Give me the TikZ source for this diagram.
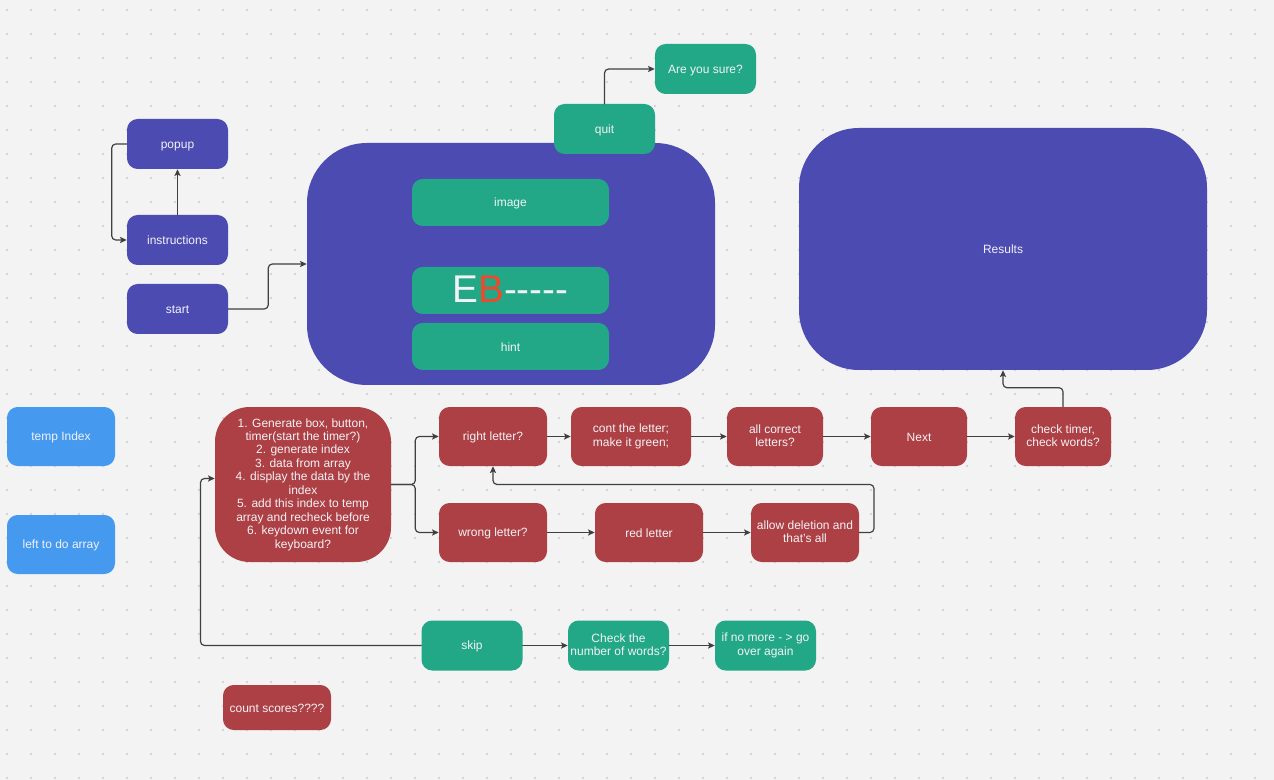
\documentclass[tikz,border=0pt]{standalone}
\usepackage{fontspec}
\setmainfont{Liberation Sans}
\usetikzlibrary{arrows.meta}
\definecolor{bgc}{HTML}{F3F3F3}
\definecolor{dotc}{HTML}{CBCBCB}
\definecolor{indigo}{HTML}{4B4BB2}
\definecolor{teal}{HTML}{22A887}
\definecolor{brick}{HTML}{AD4044}
\definecolor{sky}{HTML}{4599EE}
\definecolor{letterred}{HTML}{EA4B2D}
\definecolor{linec}{HTML}{404040}
\definecolor{txt}{HTML}{F2F2F6}
\begin{document}
\begin{tikzpicture}[x=0.75pt,y=-0.75pt,line join=round,line cap=round,>={Stealth[length=5pt,width=4.6pt,inset=1pt]}]
	\tikzset{box/.style 2 args={rounded corners=8pt,inner sep=0pt,align=center,text=txt,
			font=\fontsize{9}{10.1}\selectfont,minimum width={#1*0.75pt},minimum height={#2*0.75pt},
			execute at begin node={\rule[-1.5pt]{0pt}{10pt}}},
		purple box/.style={box={#1},fill=indigo},
		green box/.style={box={#1},fill=teal},
		red box/.style={box={#1},fill=brick},
		blue box/.style={box={#1},fill=sky},
		arr/.style={->,draw=linec,line width=0.9pt,rounded corners=3pt}}
	\useasboundingbox (0,0) rectangle (1274,780);
	\fill[bgc] (0,0) rectangle (1274,780);
	% dotted grid
	\foreach \i in {0,...,52}
		\foreach \j in {0,...,32}
			\fill[dotc] (7+24*\i,10+24*\j) circle[radius=0.8pt];
	% menu
	\node[purple box={{101}{50}}] (popup) at (177.5,144) {popup};
	\node[purple box={{101}{50}}] (instr) at (177.5,240) {instructions};
	\node[purple box={{101}{50}}] (start) at (177.5,309) {start};
	% game screen
	\node[purple box={{408}{242}},rounded corners=45pt] (screen) at (511,264) {};
	\node[green box={{197}{47}}] (image) at (510.5,202.5) {image};
	\node[green box={{197}{47}}] (word) at (510.5,290.5) {\fontsize{29}{30}\selectfont E\textcolor{letterred}{B}-{}-{}-{}-{}-};
	\node[green box={{197}{47}}] (hint) at (510.5,346.5) {hint};
	\node[green box={{101}{50}}] (quit) at (604.5,129) {quit};
	\node[green box={{101}{50}}] (sure) at (705.5,69) {Are you sure?};
	\node[purple box={{408}{242}},rounded corners=45pt] (results) at (1003,249) {Results};
	% arrays
	\node[blue box={{108}{59}}] (tempidx) at (61,436.5) {temp Index};
	\node[blue box={{108}{59}}] (todo) at (61,544.5) {left to do array};
	% game logic
	\node[red box={{176}{155}},rounded corners=26pt] (setup) at (303,484.5) {1. Generate box, button,\\timer(start the timer?)\\2. generate index\\3. data from array\\4. display the data by the\\index\\5. add this index to temp\\array and recheck before\\6. keydown event for\\keyboard?};
	\node[red box={{108}{59}}] (right) at (493,436.5) {right letter?};
	\node[red box={{120}{59}}] (cont) at (631,436.5) {cont the letter;\\make it green;};
	\node[red box={{96}{59}}] (allok) at (775,436.5) {all correct\\letters?};
	\node[red box={{96}{59}}] (next) at (919,436.5) {Next};
	\node[red box={{96}{59}}] (check) at (1063,436.5) {check timer,\\check words?};
	\node[red box={{108}{59}}] (wrong) at (493,532.5) {wrong letter?};
	\node[red box={{108}{59}}] (redl) at (649,532.5) {red letter};
	\node[red box={{108}{59}}] (allow) at (805,532.5) {allow deletion and\\that's all};
	\node[green box={{101}{50}}] (skip) at (472,645.5) {skip};
	\node[green box={{101}{50}}] (count) at (618.5,645.5) {Check the\\number of words?};
	\node[green box={{101}{50}}] (again) at (765.5,645.5) {if no more - > go\\over again};
	\node[red box={{108}{45}}] (scores) at (277,707.5) {count scores????};
	\coordinate (back) at (874,484.5);
	\coordinate (loop) at (200.5,478.5);
	% connectors
	\draw[arr] (popup.west) -- ++(-15,0) |- (instr.west);
	\draw[arr] (instr.north) -- (popup.south);
	\draw[arr] (start.east) -- ++(40,0) |- (screen.west);
	\draw[arr] (quit.north) |- (sure.west);
	\draw[arr] (setup.east) -- ++(24,0) |- (right.west);
	\draw[arr] (setup.east) -- ++(24,0) |- (wrong.west);
	\draw[arr] (right) -- (cont);
	\draw[arr] (cont) -- (allok);
	\draw[arr] (allok) -- (next);
	\draw[arr] (next) -- (check);
	\draw[arr] (check.north) -- ++(0,-19) -| (results.south);
	\draw[arr] (wrong) -- (redl);
	\draw[arr] (redl) -- (allow);
	\draw[arr] (allow.east) -| (back) -| (right.south);
	\draw[arr] (skip.west) -| (loop) -- (loop -| setup.west);
	\draw[arr] (skip) -- (count);
	\draw[arr] (count) -- (again);
\end{tikzpicture}
\end{document}
